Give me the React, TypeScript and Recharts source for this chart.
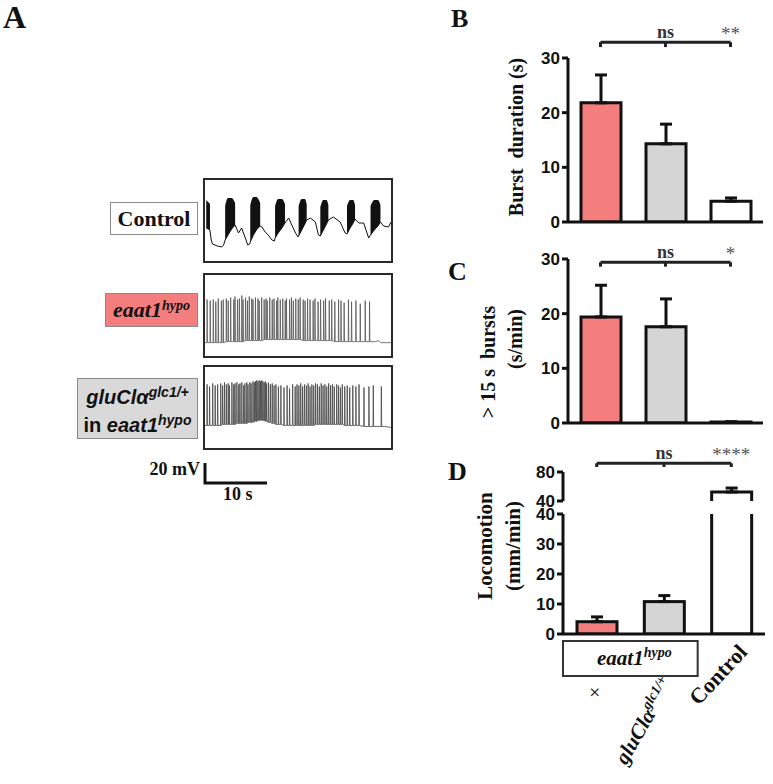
import React from 'react';
import {
  BarChart, Bar, Cell, ErrorBar, XAxis, YAxis, ReferenceLine, ReferenceArea,
  ComposedChart, Line, Area, LineChart,
} from 'recharts';

const SERIF = '"Liberation Serif", "Times New Roman", serif';
const SANS = '"Liberation Sans", Arial, sans-serif';
const INK = '#111';

// groups: eaat1hypo, gluClα/+ in eaat1hypo, Control
const groups = ['eaat1', 'gluCl', 'Control'];
const fills = ['#f47d7d', '#d5d5d5', '#ffffff'];

// B: burst duration (s)
const burstMean = [21.8, 14.3, 3.8];
const burstSem = [5.1, 3.6, 0.6];
const burstTicks = [0, 10, 20, 30];
const burstSig = ['ns', '**'];

// C: > 15 s bursts (s/min)
const longMean = [19.4, 17.6, 0.2];
const longSem = [5.8, 5.1, 0];
const longSig = ['ns', '*'];

// D: locomotion (mm/min), broken axis
const locoMean = [4.1, 10.8, 52.4];
const locoSem = [1.6, 2.0, 5.5];
const locoBreak = 40;
const locoLowTicks = [0, 10, 20, 30, 40];
const locoHighTicks = [40, 80];
const locoSig = ['ns', '****'];
const locoTickText = ['+', 'gluCl\u03b1', 'Control'];
const locoTickSup = ['', 'glc1/+', ''];

// A: control trace (t in s, mV); controlTop marks the spiking envelope
const controlT = [0.2, 0.8, 1.0, 1.2, 2.0, 2.7, 3.0, 3.25, 3.7, 4.3, 4.86, 5.4, 5.9, 6.5, 6.9, 7.2, 7.3, 7.8, 8.3, 8.9, 9.2, 9.7, 10.2, 10.8, 11.2, 11.3, 11.8, 12.4, 12.9, 13.5, 14.0, 14.6, 15.0, 15.1, 15.6, 16.1, 16.4, 17.0, 17.8, 18.3, 18.6, 19.1, 19.6, 19.9, 20.7, 21.8, 22.6, 22.9, 23.4, 23.9, 24.2, 24.8, 25.6, 26.4, 26.7, 27.3, 27.9, 28.3, 28.8, 29.6, 30.0];
const controlV = [-40, -42, -52, -56, -58, -59, -57, -52, -47, -41, -37, -45, -40, -50, -57, -56, -54, -47, -42, -38, -39, -44, -47, -52, -53, -50, -45, -40, -35, -30, -37, -45, -49, -48, -42, -36, -32, -30, -34, -47, -48, -42, -36, -32, -29, -34, -45, -46, -40, -35, -31, -35, -35, -50, -47, -42, -38, -34, -38, -39, -34];
const controlTop = [-12, -16, null, null, null, null, null, -18, -10, -10, -15, null, null, null, null, null, -17, -9, -9, -15, null, null, null, null, null, -18, -11, -11, -16, null, null, null, null, -18, -11, -11, -16, null, null, null, -19, -12, -12, -17, null, null, null, -18, -12, -12, -17, null, null, null, -18, -12, -12, -17, null, null, null];

// A: spikes as [time s, base mV, peak mV]
const eaatSpikes = [
  [0.3, -54, -12], [0.8, -54, -13], [1.3, -54, -12], [1.7, -54, -14], [2.1, -54, -11], [2.6, -54, -13], [2.9, -54, -12], [3.4, -53, -11], [3.7, -53, -13], [4.1, -53, -10],
  [4.6, -53, -12], [4.8, -53, -9], [5.2, -53, -12], [5.5, -53, -11], [5.9, -53, -8], [6.1, -53, -12], [6.5, -52, -10], [6.8, -52, -13], [7.1, -52, -9], [7.5, -52, -11],
  [7.7, -52, -12], [8.1, -52, -10], [8.5, -52, -11], [8.7, -52, -13], [9.1, -52, -10], [9.5, -51, -12], [9.8, -51, -11], [10.0, -51, -13], [10.4, -51, -10], [10.8, -51, -12],
  [11.1, -51, -11], [11.5, -51, -13], [11.7, -51, -10], [12.1, -51, -12], [12.5, -51, -11], [12.9, -51, -13], [13.1, -51, -11], [13.6, -51, -12], [13.9, -51, -10], [14.2, -51, -13],
  [14.6, -51, -11], [15.0, -51, -12], [15.3, -51, -10], [15.8, -52, -12], [16.1, -52, -13], [16.5, -52, -11], [16.9, -52, -12], [17.4, -52, -13], [17.7, -52, -11], [18.2, -52, -14],
  [18.6, -52, -12], [19.1, -52, -13], [19.4, -52, -11], [20.0, -52, -13], [20.4, -52, -12], [20.9, -53, -14], [21.5, -53, -12], [21.9, -53, -13], [22.4, -53, -15], [23.1, -53, -12],
  [23.6, -53, -14], [24.3, -53, -13], [25.0, -53, -16], [25.8, -53, -13], [26.5, -53, -14],
];
const eaatTail = [[27.5, -53], [28.0, -52], [28.3, -54], [30, -54]];

const gluSpikes = [
  [0.3, -52, -12], [0.7, -52, -14], [1.2, -52, -11], [1.6, -52, -13], [2.0, -52, -12], [2.5, -52, -11], [2.8, -51, -13], [3.1, -51, -10], [3.4, -51, -12], [3.7, -51, -11],
  [3.9, -51, -13], [4.3, -51, -10], [4.6, -51, -12], [4.8, -51, -11], [5.1, -50, -10], [5.4, -50, -12], [5.6, -50, -11], [5.9, -50, -10], [6.2, -50, -13], [6.4, -50, -11],
  [6.7, -50, -10], [6.9, -49, -12], [7.2, -49, -10], [7.4, -49, -11], [7.7, -49, -9], [7.9, -48, -10], [8.1, -48, -9], [8.3, -48, -8], [8.5, -47, -9], [8.7, -47, -8],
  [8.9, -47, -9], [9.1, -47, -8], [9.3, -47, -9], [9.5, -47, -10], [9.7, -48, -9], [9.9, -48, -11], [10.2, -49, -10], [10.5, -49, -12], [10.8, -50, -11], [11.1, -50, -13],
  [11.4, -51, -12], [11.8, -51, -14], [12.2, -51, -13], [12.7, -52, -15], [13.2, -52, -13], [13.6, -52, -16], [14.1, -52, -12], [14.5, -52, -14], [14.8, -52, -12], [15.1, -52, -13],
  [15.4, -52, -11], [15.7, -52, -14], [16.0, -52, -12], [16.3, -52, -13], [16.6, -52, -11], [16.9, -52, -14], [17.2, -52, -12], [17.5, -52, -13], [17.8, -51, -11], [18.1, -51, -12],
  [18.4, -51, -14], [18.7, -51, -11], [19.0, -51, -13], [19.3, -51, -12], [19.6, -51, -14], [19.9, -51, -11], [20.2, -51, -13], [20.5, -51, -12], [20.8, -51, -14], [21.2, -51, -12],
  [21.5, -51, -13], [21.8, -51, -15], [22.1, -51, -12], [22.5, -52, -14], [22.9, -52, -13], [23.3, -52, -15], [23.8, -52, -13], [24.3, -52, -14], [24.8, -52, -12], [25.6, -53, -15],
  [26.4, -53, -14], [27.1, -53, -13], [28.4, -53, -14],
];
const gluTail = [[29.0, -53], [30, -54]];

const scaleBarMv = 20;
const scaleBarS = 10;

// ---------- data builders ----------
const barRows = (means: number[], sems: number[]) =>
  groups.map((g, i) => ({ name: g, value: means[i], err: [0, sems[i]], fill: fills[i] }));

const locoLowRows = groups.map((g, i) => {
  const broken = locoMean[i] > locoBreak;
  return { name: g, value: Math.min(locoMean[i], locoBreak), err: broken ? null : [0, locoSem[i]], broken, fill: fills[i] };
});
const locoHighRows = groups.map((g, i) => {
  const broken = locoMean[i] > locoBreak;
  return { name: g, value: broken ? locoMean[i] : null, err: broken ? [0, locoSem[i]] : null, broken, fill: fills[i] };
});

const controlRows = controlT.map((t, i) => ({
  t, v: controlV[i], band: controlTop[i] == null ? null : [controlV[i], controlTop[i]],
}));

const spikeRows = (spikes: number[][], tail: number[][]) => {
  const rows: { t: number; v: number }[] = [{ t: 0, v: spikes[0][1] }];
  spikes.forEach(([t, lo, hi]) => {
    rows.push({ t, v: lo }, { t: t + 0.04, v: hi }, { t: t + 0.1, v: lo });
  });
  tail.forEach(([t, v]) => rows.push({ t, v }));
  return rows;
};

const scaleBarRows = [
  { t: 0, v: scaleBarMv },
  { t: 0, v: 0 },
  { t: scaleBarS, v: 0 },
];

// ---------- styles ----------
const axisLine = { stroke: INK, strokeWidth: 3 };
const tickStyle = { fill: INK, fontSize: 17, fontWeight: 700, fontFamily: SANS };

const axisTitle = (lines: string[], dx: number[], dy: number[], size: number) => (props: any) => {
  const vb = props.viewBox || { x: 0, y: 0, width: 0, height: 0 };
  const cx = vb.x + vb.width / 2;
  const cy = vb.y + vb.height / 2;
  return (
    <g>
      {lines.map((line, i) => (
        <text
          key={i}
          transform={`translate(${cx + dx[i]},${cy + dy[i]}) rotate(-90)`}
          textAnchor="middle"
          dominantBaseline="central"
          fontFamily={SERIF}
          fontWeight={700}
          fontSize={size}
          fill={INK}
          style={{ whiteSpace: 'pre' }}
        >
          {line}
        </text>
      ))}
    </g>
  );
};

const bracket = (yLine: number, yTick: number, sig: string[]) => [
  <ReferenceLine
    key="span"
    segment={[{ x: groups[0], y: yLine }, { x: groups[2], y: yLine }]}
    stroke="#222"
    strokeWidth={3}
    ifOverflow="visible"
  />,
  ...groups.map((g, i) => (
    <ReferenceLine
      key={g}
      segment={[{ x: g, y: yLine }, { x: g, y: yTick }]}
      stroke="#222"
      strokeWidth={3}
      ifOverflow="visible"
      label={
        i === 0
          ? undefined
          : i === 1
            ? { value: sig[0], position: 'top', offset: 4, fill: '#333', fontSize: 18, fontWeight: 700, fontFamily: SERIF }
            : { value: sig[1], position: 'top', offset: 2, fill: '#555', fontSize: 19, fontFamily: SERIF }
      }
    />
  )),
];

// bars cut by the axis break are left open on the side of the break
const brokenShape = (side: 'top' | 'bottom') => (p: any) => {
  const { x, y, width, height, fill, payload } = p;
  if (!payload || !payload.broken) {
    return <rect x={x} y={y} width={width} height={height} fill={fill} stroke={INK} strokeWidth={3} />;
  }
  const d = side === 'top'
    ? `M${x},${y} L${x},${y + height} L${x + width},${y + height} L${x + width},${y}`
    : `M${x},${y + height} L${x},${y} L${x + width},${y} L${x + width},${y + height}`;
  return (
    <g>
      <rect x={x} y={y} width={width} height={height} fill={fill} />
      <path d={d} fill="none" stroke={INK} strokeWidth={3} />
    </g>
  );
};

const LocoTick = (props: any) => {
  const { x, y, payload } = props;
  const i = groups.indexOf(payload.value);
  if (i === 0) {
    return (
      <text transform={`translate(${x - 2},${y + 58}) rotate(-45)`} textAnchor="middle" dominantBaseline="central"
        fontFamily={SERIF} fontSize={22} fill={INK}>{locoTickText[0]}</text>
    );
  }
  if (i === 1) {
    return (
      <text transform={`translate(${x + 10},${y + 49}) rotate(-60)`} textAnchor="end"
        fontFamily={SERIF} fontSize={21} fontWeight={700} fontStyle="italic" fill={INK}>
        {locoTickText[1]}
        <tspan fontSize={14} dy={-8}>{locoTickSup[1]}</tspan>
      </text>
    );
  }
  return (
    <text transform={`translate(${x + 17},${y + 19}) rotate(-47)`} textAnchor="end"
      fontFamily={SERIF} fontSize={22} fontWeight={700} fill={INK}>{locoTickText[2]}</text>
  );
};

const genotypeBoxLabel = (props: any) => {
  const vb = props.viewBox;
  return (
    <text x={vb.x + vb.width / 2 + 4} y={vb.y + vb.height / 2 + 7} textAnchor="middle"
      fontFamily={SERIF} fontSize={21} fontWeight={700} fontStyle="italic" fill={INK}>
      eaat1<tspan fontSize={14} dy={-8}>hypo</tspan>
    </text>
  );
};

const TraceBox = ({ top, children }: { top: number; children: React.ReactNode }) => (
  <div style={{ position: 'absolute', left: 203, top, width: 186, height: 81, border: '2px solid #2a2a2a' }}>
    {children}
  </div>
);

const GeneBox = ({ left, top, width, height, bg, children }: any) => (
  <div style={{
    position: 'absolute', left, top, width, height, background: bg, border: '1px solid #8a8a8a',
    boxSizing: 'border-box', display: 'flex', flexDirection: 'column', alignItems: 'center', justifyContent: 'center',
    fontWeight: 700, color: INK,
  }}>
    {children}
  </div>
);

export default function App() {
  const burstRows = barRows(burstMean, burstSem);
  const longRows = barRows(longMean, longSem);
  const eaatRows = spikeRows(eaatSpikes, eaatTail);
  const gluRows = spikeRows(gluSpikes, gluTail);

  return (
    <div style={{ position: 'absolute', left: 0, top: 0, width: 773, height: 784, background: '#fff', overflow: 'hidden' }}>
      <svg width={773} height={784} style={{ position: 'absolute', left: 0, top: 0 }}>
        <g fontFamily={SERIF} fontWeight={700} fill={INK}>
          <text x={3} y={28} fontSize={32}>A</text>
          <text x={451} y={27} fontSize={26}>B</text>
          <text x={448} y={280} fontSize={26}>C</text>
          <text x={448} y={480} fontSize={26}>D</text>
          <text x={200} y={475} fontSize={18} textAnchor="end">20 mV</text>
          <text x={223} y={500} fontSize={18}>10 s</text>
        </g>
      </svg>

      {/* A: genotype labels */}
      <GeneBox left={110} top={202} width={88} height={33} bg="#fff">
        <span style={{ fontFamily: SERIF, fontSize: 22 }}>Control</span>
      </GeneBox>
      <GeneBox left={105} top={293} width={93} height={34} bg="#f47d7d">
        <span style={{ fontFamily: SERIF, fontSize: 22, fontStyle: 'italic' }}>
          eaat1<sup style={{ fontSize: 14, verticalAlign: 7 }}>hypo</sup>
        </span>
      </GeneBox>
      <GeneBox left={77} top={378} width={121} height={61} bg="#d9d9d9">
        <span style={{ fontFamily: SANS, fontSize: 20, lineHeight: '23px', fontStyle: 'italic' }}>
          gluCl{'\u03b1'}<sup style={{ fontSize: 14, verticalAlign: 7 }}>glc1/+</sup>
        </span>
        <span style={{ fontFamily: SANS, fontSize: 20, lineHeight: '23px' }}>
          in <i>eaat1<sup style={{ fontSize: 14, verticalAlign: 7 }}>hypo</sup></i>
        </span>
      </GeneBox>

      {/* A: traces */}
      <TraceBox top={178}>
        <ComposedChart width={186} height={81} data={controlRows} margin={{ top: 0, right: 0, left: 0, bottom: 0 }}>
          <XAxis type="number" dataKey="t" domain={[0, 30]} hide allowDataOverflow />
          <YAxis domain={[-73, 8]} hide allowDataOverflow />
          <Area type="monotone" dataKey="band" stroke="none" fill={INK} fillOpacity={1} connectNulls={false} isAnimationActive={false} />
          <Line type="linear" dataKey="v" stroke={INK} strokeWidth={1} dot={false} isAnimationActive={false} />
        </ComposedChart>
      </TraceBox>
      <TraceBox top={273}>
        <LineChart width={186} height={81} data={eaatRows} margin={{ top: 0, right: 0, left: 0, bottom: 0 }}>
          <XAxis type="number" dataKey="t" domain={[0, 30]} hide allowDataOverflow />
          <YAxis domain={[-67, 12]} hide allowDataOverflow />
          <Line type="linear" dataKey="v" stroke="#555" strokeWidth={0.8} dot={false} isAnimationActive={false} />
        </LineChart>
      </TraceBox>
      <TraceBox top={365}>
        <LineChart width={186} height={81} data={gluRows} margin={{ top: 0, right: 0, left: 0, bottom: 0 }}>
          <XAxis type="number" dataKey="t" domain={[0, 30]} hide allowDataOverflow />
          <YAxis domain={[-74, 5]} hide allowDataOverflow />
          <Line type="linear" dataKey="v" stroke="#444" strokeWidth={0.8} dot={false} isAnimationActive={false} />
        </LineChart>
      </TraceBox>

      {/* A: scale bar, same time scale as the traces */}
      <div style={{ position: 'absolute', left: 202, top: 460 }}>
        <LineChart width={192} height={26} data={scaleBarRows} margin={{ top: 3, right: 3, left: 3, bottom: 3 }}>
          <XAxis type="number" dataKey="t" domain={[0, 30]} hide />
          <YAxis domain={[0, 20]} hide />
          <Line type="linear" dataKey="v" stroke={INK} strokeWidth={3} dot={false} isAnimationActive={false} />
        </LineChart>
      </div>

      {/* B */}
      <div style={{ position: 'absolute', left: 400, top: 0 }}>
        <BarChart width={373} height={240} data={burstRows} margin={{ top: 58, right: 10, left: 120, bottom: 17 }}>
          <XAxis dataKey="name" tick={false} tickLine={false} axisLine={axisLine} height={1} />
          <YAxis domain={[0, 30]} ticks={burstTicks} allowDataOverflow width={48} tick={tickStyle}
            tickLine={axisLine} axisLine={axisLine} tickSize={6} interval={0}
            label={axisTitle(['Burst\u00a0 duration (s)'], [-28], [-3], 20)} />
          <Bar dataKey="value" barSize={40} stroke={INK} strokeWidth={3} isAnimationActive={false}>
            {burstRows.map((r) => <Cell key={r.name} fill={r.fill} />)}
            <ErrorBar dataKey="err" direction="y" width={6} stroke={INK} strokeWidth={3} />
          </Bar>
          {bracket(32.9, 32.0, burstSig)}
        </BarChart>
      </div>

      {/* C */}
      <div style={{ position: 'absolute', left: 400, top: 230 }}>
        <BarChart width={373} height={210} data={longRows} margin={{ top: 29, right: 10, left: 120, bottom: 16 }}>
          <XAxis dataKey="name" tick={false} tickLine={false} axisLine={axisLine} height={1} />
          <YAxis domain={[0, 30]} ticks={burstTicks} allowDataOverflow width={48} tick={tickStyle}
            tickLine={axisLine} axisLine={axisLine} tickSize={6} interval={0}
            label={axisTitle(['> 15 s\u00a0 bursts', '(s/min)'], [-56, -29], [21, -2], 20)} />
          <Bar dataKey="value" barSize={40} stroke={INK} strokeWidth={3} isAnimationActive={false}>
            {longRows.map((r) => <Cell key={r.name} fill={r.fill} />)}
            <ErrorBar dataKey="err" direction="y" width={6} stroke={INK} strokeWidth={3} />
          </Bar>
          {bracket(29.4, 28.6, longSig)}
        </BarChart>
      </div>

      {/* D lower segment (0-40) */}
      <div style={{ position: 'absolute', left: 400, top: 470 }}>
        <BarChart width={373} height={314} data={locoLowRows} margin={{ top: 44, right: 8, left: 115, bottom: 0 }}>
          <XAxis dataKey="name" tick={<LocoTick />} tickLine={false} tickSize={0} tickMargin={0}
            axisLine={axisLine} height={150} interval={0} />
          <YAxis domain={[0, 40]} ticks={locoLowTicks} allowDataOverflow width={48} tick={tickStyle}
            tickLine={axisLine} axisLine={axisLine} tickSize={6} interval={0}
            label={axisTitle(['Locomotion', '(mm/min)'], [-54, -26], [-28, -28], 21)} />
          <Bar dataKey="value" barSize={40} isAnimationActive={false} shape={brokenShape('top')}>
            {locoLowRows.map((r) => <Cell key={r.name} fill={r.fill} />)}
            <ErrorBar dataKey="err" direction="y" width={6} stroke={INK} strokeWidth={3} />
          </Bar>
          <ReferenceArea x1={groups[0]} x2={groups[1]} y1={-2.3} y2={-14} ifOverflow="visible"
            fill="#fff" fillOpacity={1} stroke="#333" strokeWidth={2} label={genotypeBoxLabel} />
        </BarChart>
      </div>

      {/* D upper segment (40-80) */}
      <div style={{ position: 'absolute', left: 400, top: 430 }}>
        <BarChart width={373} height={83} data={locoHighRows} margin={{ top: 42, right: 8, left: 115, bottom: 12 }}>
          <XAxis dataKey="name" hide />
          <YAxis domain={[40, 80]} ticks={locoHighTicks} allowDataOverflow width={48} tick={tickStyle}
            tickLine={axisLine} axisLine={axisLine} tickSize={6} interval={0} />
          <Bar dataKey="value" barSize={40} isAnimationActive={false} shape={brokenShape('bottom')}>
            {locoHighRows.map((r) => <Cell key={r.name} fill={r.fill} />)}
            <ErrorBar dataKey="err" direction="y" width={6} stroke={INK} strokeWidth={3} />
          </Bar>
          {bracket(92.0, 86.9, locoSig)}
        </BarChart>
      </div>
    </div>
  );
}
